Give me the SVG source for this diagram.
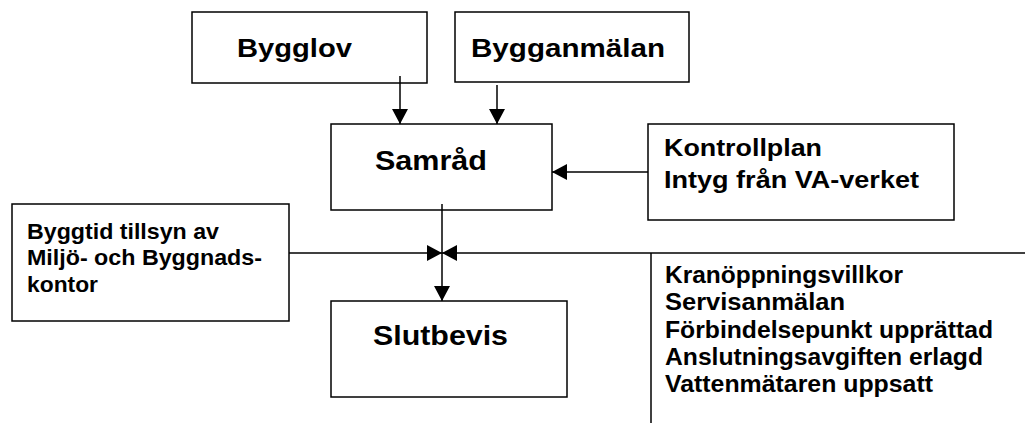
<svg xmlns="http://www.w3.org/2000/svg" width="1025" height="423" viewBox="0 0 1025 423">
<style>
.box{fill:#fff;stroke:#000;stroke-width:1.5}
.ln{fill:none;stroke:#000;stroke-width:1.5}
text{font-family:"Liberation Sans",Arial,sans-serif;font-weight:bold;fill:#000}
.big{font-size:26px}
.mid{font-size:28px}
.sm{font-size:23px}
.xs{font-size:22px}
</style>
<defs>
<marker id="ah" markerUnits="userSpaceOnUse" markerWidth="15" markerHeight="16" refX="15" refY="8" orient="auto">
<path d="M0,0 L15,8 L0,16 Z" fill="#000"/>
</marker>
</defs>
<rect width="1025" height="423" fill="#fff"/>
<g id="bygglov">
<rect class="box" x="192" y="12" width="235" height="71"/>
<text class="big" x="237" y="57" textLength="115" lengthAdjust="spacingAndGlyphs">Bygglov</text>
</g>
<g id="bygganmalan">
<rect class="box" x="455" y="12" width="234" height="70"/>
<text class="big" x="471" y="57" textLength="194" lengthAdjust="spacingAndGlyphs">Bygganmälan</text>
</g>
<g id="samrad">
<rect class="box" x="331" y="124" width="221" height="86"/>
<text class="mid" x="375" y="170" textLength="112" lengthAdjust="spacingAndGlyphs">Samråd</text>
</g>
<g id="kontrollplan">
<rect class="box" x="648" y="124" width="306" height="96"/>
<text class="sm" x="664" y="156" textLength="158" lengthAdjust="spacingAndGlyphs">Kontrollplan</text>
<text class="sm" x="664" y="188" textLength="255" lengthAdjust="spacingAndGlyphs">Intyg från VA-verket</text>
</g>
<g id="byggtid">
<rect class="box" x="12" y="204" width="277" height="117"/>
<text class="xs" x="27" y="239" textLength="192" lengthAdjust="spacingAndGlyphs">Byggtid tillsyn av</text>
<text class="xs" x="27" y="265" textLength="235" lengthAdjust="spacingAndGlyphs">Miljö- och Byggnads-</text>
<text class="xs" x="27" y="292" textLength="71" lengthAdjust="spacingAndGlyphs">kontor</text>
</g>
<g id="slutbevis">
<rect class="box" x="331" y="301" width="236" height="96"/>
<text class="mid" x="373" y="345" textLength="135" lengthAdjust="spacingAndGlyphs">Slutbevis</text>
</g>
<g id="villkor">
<text class="sm" x="665" y="283" textLength="238" lengthAdjust="spacingAndGlyphs">Kranöppningsvillkor</text>
<text class="sm" x="665" y="310" textLength="180" lengthAdjust="spacingAndGlyphs">Servisanmälan</text>
<text class="sm" x="665" y="338" textLength="328" lengthAdjust="spacingAndGlyphs">Förbindelsepunkt upprättad</text>
<text class="sm" x="665" y="365" textLength="318" lengthAdjust="spacingAndGlyphs">Anslutningsavgiften erlagd</text>
<text class="sm" x="665" y="392" textLength="268" lengthAdjust="spacingAndGlyphs">Vattenmätaren uppsatt</text>
</g>
<g id="connectors">
<line class="ln" x1="400" y1="76" x2="400" y2="124" marker-end="url(#ah)"/>
<line class="ln" x1="497" y1="85" x2="497" y2="124" marker-end="url(#ah)"/>
<line class="ln" x1="648" y1="172" x2="552" y2="172" marker-end="url(#ah)"/>
<line class="ln" x1="442" y1="204" x2="442" y2="301" marker-end="url(#ah)"/>
<line class="ln" x1="289" y1="253" x2="442" y2="253" marker-end="url(#ah)"/>
<line class="ln" x1="1025" y1="253" x2="442" y2="253" marker-end="url(#ah)"/>
<line class="ln" x1="651" y1="253" x2="651" y2="423"/>
</g>
</svg>
